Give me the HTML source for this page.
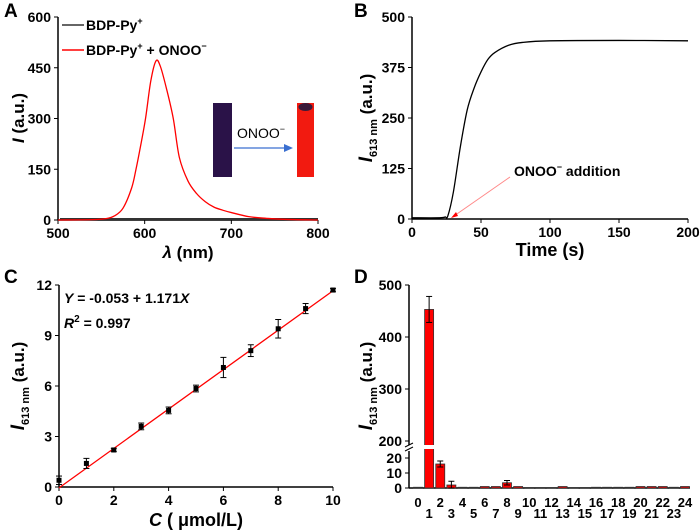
<!DOCTYPE html>
<html><head><meta charset="utf-8"><style>
body{margin:0;background:#fff}
svg{display:block;font-family:"Liberation Sans",Arial,sans-serif;font-weight:bold}
</style></head><body>
<svg id="fig" width="700" height="531" viewBox="0 0 700 531" xmlns="http://www.w3.org/2000/svg">
<g id="pa"></g>
<g id="pb"></g>
<g id="pc"></g>
<g id="pd"></g>
</svg>
<script>
// Panel A data
const specWl=[500,540,555,565,575,585,590,595,601,607,613,618,625,633,640,650,660,670,680,690,700,720,740,760,800];
const specI=[0,1,4,12,35,95,150,215,300,410,470,455,390,300,185,115,78,54,38,29,22,10,5,2,0];
const aXTicks=[500,600,700,800];
const aYTicks=[0,150,300,450,600];
// Panel B data
const timeT=[0,20,24,26,30,35,40,45,50,55,60,70,80,100,150,200];
const timeI=[3,3,5,8,67,178,270,324,364,395,412,430,437,441,442,441];
const bXTicks=[0,50,100,150,200];
const bYTicks=[0,125,250,375,500];
// Panel C data
const concC=[0,1,2,3,4,5,6,7,8,9,10];
const concI=[0.4,1.4,2.2,3.6,4.55,5.85,7.1,8.1,9.4,10.6,11.7];
const concErr=[0.25,0.3,0.1,0.2,0.2,0.2,0.6,0.35,0.55,0.3,0.1];
const fitA=-0.053, fitB=1.171;
const cXTicks=[0,2,4,6,8,10];
const cYTicks=[0,3,6,9,12];
// Panel D data
const selCat=[0,1,2,3,4,5,6,7,8,9,10,11,12,13,14,15,16,17,18,19,20,21,22,23,24];
const selVal=[0.5,453,16,2,0.5,0.5,1,1,3.5,1,0.3,0.3,0.3,1,0.3,0.3,0.5,0.5,0.5,0.5,1,1,1,0.5,1];
const selErr=[0,25,2,2.5,0,0,0,0,1.5,0,0,0,0,0,0,0,0,0,0,0,0,0,0,0,0];
const dYLow=[0,10,20];
const dYHigh=[200,300,400,500];

const NS="http://www.w3.org/2000/svg";
function mk(p,tag,at,txt){const e=document.createElementNS(NS,tag);for(const k in at)e.setAttribute(k,at[k]);if(txt!==undefined)e.textContent=txt;p.appendChild(e);return e;}
function lin(d0,d1,r0,r1){return v=>r0+(v-d0)/(d1-d0)*(r1-r0);}
function smooth(pts){let d="M"+pts[0][0]+","+pts[0][1];for(let i=0;i<pts.length-1;i++){const p0=pts[Math.max(0,i-1)],p1=pts[i],p2=pts[i+1],p3=pts[Math.min(pts.length-1,i+2)];const c1x=p1[0]+(p2[0]-p0[0])/6,c1y=p1[1]+(p2[1]-p0[1])/6,c2x=p2[0]-(p3[0]-p1[0])/6,c2y=p2[1]-(p3[1]-p1[1])/6;d+=" C"+c1x+","+c1y+" "+c2x+","+c2y+" "+p2[0]+","+p2[1];}return d;}
function axes(g,x0,x1,y0,y1,xs,ys,xt,yt){
  let e=mk(g,"line",{x1:x0,y1:y0,x2:x1,y2:y0,stroke:"#000","stroke-width":1.5});
  
  
  e=mk(g,"line",{x1:x0,y1:y0,x2:x0,y2:y1,stroke:"#000","stroke-width":1.5});
  
  
  xt.forEach(v=>{const x=xs(v);mk(g,"line",{x1:x,y1:y0,x2:x,y2:y0+4,stroke:"#000"});
    const t=mk(g,"text",{x:x,y:y0+18,"text-anchor":"middle","font-size":14},v);
    
    });
  yt.forEach(v=>{const y=ys(v);mk(g,"line",{x1:x0,y1:y,x2:x0-4,y2:y,stroke:"#000"});
    const t=mk(g,"text",{x:x0-7,y:y+5,"text-anchor":"end","font-size":14},v);
    
    });
}
// ---------- Panel A
(function(){
const g=document.getElementById("pa");
const xs=lin(500,800,58,318), ys=lin(0,600,220,17);
axes(g,58,318,220,17,xs,ys,aXTicks,aYTicks);
let t=mk(g,"text",{x:4,y:17,"font-size":19},"A");


t=mk(g,"text",{x:188,y:258,"text-anchor":"middle","font-size":17},"");
t.innerHTML='<tspan font-style="italic">λ</tspan> (nm)';


t=mk(g,"text",{transform:"translate(24,118) rotate(-90)","text-anchor":"middle","font-size":17},"");
t.innerHTML='<tspan font-style="italic">I</tspan> (a.u.)';


let l=mk(g,"line",{x1:60,y1:219,x2:318,y2:219,stroke:"#333","stroke-width":2});


const p=mk(g,"path",{d:smooth(specWl.map((w,i)=>[xs(w),ys(specI[i])])),fill:"none",stroke:"#f00","stroke-width":1.3});


const lg=mk(g,"g",{});


mk(lg,"line",{x1:62,y1:25,x2:84,y2:25,stroke:"#333","stroke-width":1.5});
t=mk(lg,"text",{x:86,y:30,"font-size":14},"");t.innerHTML='BDP-Py<tspan font-size="9" dy="-6">+</tspan>';


mk(lg,"line",{x1:62,y1:50,x2:84,y2:50,stroke:"#f00","stroke-width":1.5});
t=mk(lg,"text",{x:86,y:55,"font-size":14},"");t.innerHTML='BDP-Py<tspan font-size="9" dy="-6">+</tspan><tspan dy="6"> + ONOO</tspan><tspan font-size="9" dy="-6">−</tspan>';


const ins=mk(g,"g",{});


mk(ins,"rect",{x:213,y:103,width:19,height:74,fill:"#2a1248"});
mk(ins,"rect",{x:297,y:103,width:17,height:74,fill:"#f21a10"});
mk(ins,"ellipse",{cx:305.5,cy:107,rx:7,ry:4,fill:"#3a1a3a"});
mk(ins,"line",{x1:234,y1:148,x2:288,y2:148,stroke:"#3a6fd0","stroke-width":1.2});
mk(ins,"path",{d:"M293,148 L284,144 L284,152Z",fill:"#3a6fd0"});
t=mk(ins,"text",{x:237,y:138,"font-size":14,"font-weight":"normal"},"");t.innerHTML='ONOO<tspan font-size="9" dy="-6">−</tspan>';
})();
// ---------- Panel B
(function(){
const g=document.getElementById("pb");
const xs=lin(0,200,412,688), ys=lin(0,500,219,17);
axes(g,412,688,219,17,xs,ys,bXTicks,bYTicks);
let t=mk(g,"text",{x:354,y:17,"font-size":19},"B");


t=mk(g,"text",{x:550,y:256,"text-anchor":"middle","font-size":18},"Time (s)");


t=mk(g,"text",{transform:"translate(372,118) rotate(-90)","text-anchor":"middle","font-size":17},"");
t.innerHTML='<tspan font-style="italic" font-size="19">I</tspan><tspan font-size="11" dy="5">613 nm</tspan><tspan dy="-5"> (a.u.)</tspan>';


const p=mk(g,"path",{d:smooth(timeT.map((v,i)=>[xs(v),ys(timeI[i])])),fill:"none",stroke:"#000","stroke-width":1.3});


const an=mk(g,"g",{});


mk(an,"line",{x1:510,y1:177,x2:454,y2:216,stroke:"#f88","stroke-width":1});
mk(an,"path",{d:"M451,218 L456,212 L458,216Z",fill:"#f00"});
t=mk(an,"text",{x:514,y:176,"font-size":14},"");t.innerHTML='ONOO<tspan font-size="9" dy="-6">−</tspan><tspan dy="6"> addition</tspan>';
})();
// ---------- Panel C
(function(){
const g=document.getElementById("pc");
const xs=lin(0,10,59,333), ys=lin(0,12,487,285);
axes(g,59,333,487,285,xs,ys,cXTicks,cYTicks);
let t=mk(g,"text",{x:4,y:283,"font-size":19},"C");


t=mk(g,"text",{x:196,y:526,"text-anchor":"middle","font-size":18},"");
t.innerHTML='<tspan font-style="italic">C</tspan> ( μmol/L)';


t=mk(g,"text",{transform:"translate(24,386) rotate(-90)","text-anchor":"middle","font-size":17},"");
t.innerHTML='<tspan font-style="italic" font-size="19">I</tspan><tspan font-size="11" dy="5">613 nm</tspan><tspan dy="-5"> (a.u.)</tspan>';


t=mk(g,"text",{x:64,y:303,"font-size":14},"");t.innerHTML='<tspan font-style="italic">Y</tspan> = -0.053 + 1.171<tspan font-style="italic">X</tspan>';


t=mk(g,"text",{x:64,y:328,"font-size":14},"");t.innerHTML='<tspan font-style="italic">R</tspan><tspan font-size="10" dy="-6">2</tspan><tspan dy="6"> = 0.997</tspan>';


const f=mk(g,"line",{x1:xs(0),y1:ys(fitA),x2:xs(10),y2:ys(fitA+fitB*10),stroke:"#f00","stroke-width":1.3});


concC.forEach((c,i)=>{const x=xs(c),y=ys(concI[i]),e1=ys(concI[i]+concErr[i]),e2=ys(concI[i]-concErr[i]);
  const pg=mk(g,"g",{});
  
  
  mk(pg,"line",{x1:x,y1:e1,x2:x,y2:e2,stroke:"#000"});
  mk(pg,"line",{x1:x-3,y1:e1,x2:x+3,y2:e1,stroke:"#000"});
  mk(pg,"line",{x1:x-3,y1:e2,x2:x+3,y2:e2,stroke:"#000"});
  mk(pg,"rect",{x:x-2.5,y:y-2.5,width:5,height:5,fill:"#000"});});
})();
// ---------- Panel D
(function(){
const g=document.getElementById("pd");
const x0=409, xs=lin(0,24,418,685);
const yLow=lin(0,20,488,458), yHigh=lin(200,500,441,285);
const yv=v=>v<=25?yLow(v):(v<200?449:yHigh(v));
let e=mk(g,"line",{x1:x0,y1:488,x2:690,y2:488,stroke:"#000","stroke-width":1.5});


e=mk(g,"path",{d:"M409,488 V451 M409,445 V285",stroke:"#000","stroke-width":1.5,fill:"none"});


mk(g,"path",{d:"M405,447 L413,443 M405,451 L413,447",stroke:"#000","stroke-width":1});
dYLow.concat(dYHigh).forEach(v=>{const y=v<=25?yLow(v):yHigh(v);mk(g,"line",{x1:x0,y1:y,x2:x0-4,y2:y,stroke:"#000"});
  const t=mk(g,"text",{x:x0-7,y:y+5,"text-anchor":"end","font-size":14},v);
  
  });
let t=mk(g,"text",{x:354,y:283,"font-size":19},"D");


t=mk(g,"text",{transform:"translate(372,386) rotate(-90)","text-anchor":"middle","font-size":17},"");
t.innerHTML='<tspan font-style="italic" font-size="19">I</tspan><tspan font-size="11" dy="5">613 nm</tspan><tspan dy="-5"> (a.u.)</tspan>';


selCat.forEach((c,i)=>{const x=xs(c),v=selVal[i];
  const bg=mk(g,"g",{});
  
  
  const yt=yv(v);
  mk(bg,"rect",{x:x-4.5,y:yt,width:9,height:488-yt,fill:"#f00",stroke:"#333","stroke-width":0.8});
  if(v>200){mk(bg,"rect",{x:x-6,y:445,width:12,height:4,fill:"#fff"});}
  if(selErr[i]>0){const a=yv(v+selErr[i]),b=yv(Math.max(0,v-selErr[i]));
    mk(bg,"line",{x1:x,y1:a,x2:x,y2:b,stroke:"#000"});
    mk(bg,"line",{x1:x-3,y1:a,x2:x+3,y2:a,stroke:"#000"});
    mk(bg,"line",{x1:x-3,y1:b,x2:x+3,y2:b,stroke:"#000"});}
  const tl=mk(g,"text",{x:x,y:c%2===0?507:518,"text-anchor":"middle","font-size":13},c);
  
  });
})();
</script>
</body></html>
